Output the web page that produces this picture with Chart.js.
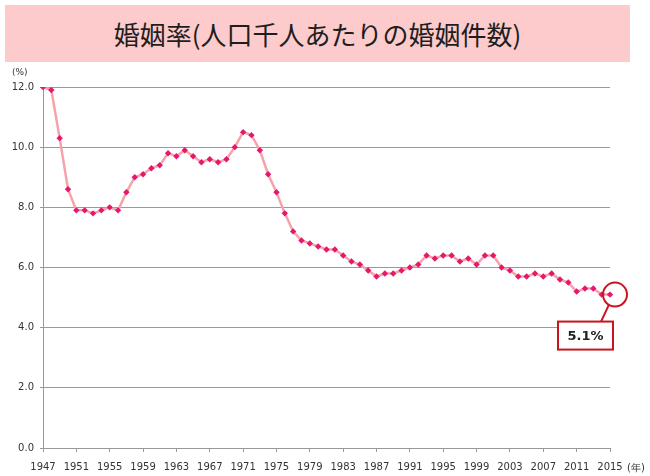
<!DOCTYPE html>
<html>
<head>
<meta charset="utf-8">
<script src="https://cdn.jsdelivr.net/npm/chart.js@4"></script>
<style>
  html, body { margin: 0; padding: 0; background: #fff; }
  #wrap { position: relative; width: 650px; height: 476px; }
  #title {
    position: absolute; left: 5px; top: 5px; width: 625px; height: 57px;
    background: #fdcbcb; color: #1e1e1e;
    font-family: "Noto Sans CJK JP", sans-serif; font-size: 26px; font-weight: 400;
    line-height: 57px; text-align: center;
  }
  #marriage { position: absolute; left: 0; top: 0; }
</style>
</head>
<body>
<div id="wrap">
  <canvas id="marriage" width="650" height="476"></canvas>
  <div id="title">婚姻率(人口千人あたりの婚姻件数)</div>
</div>
<script>
const years = [];
for (let y = 1947; y <= 2015; y++) years.push(String(y));

const rates = [
  12.0, 11.9, 10.3, 8.6, 7.9, 7.9, 7.8, 7.9, 8.0, 7.9,
  8.5, 9.0, 9.1, 9.3, 9.4, 9.8, 9.7, 9.9, 9.7, 9.5,
  9.6, 9.5, 9.6, 10.0, 10.5, 10.4, 9.9, 9.1, 8.5, 7.8,
  7.2, 6.9, 6.8, 6.7, 6.6, 6.6, 6.4, 6.2, 6.1, 5.9,
  5.7, 5.8, 5.8, 5.9, 6.0, 6.1, 6.4, 6.3, 6.4, 6.4,
  6.2, 6.3, 6.1, 6.4, 6.4, 6.0, 5.9, 5.7, 5.7, 5.8,
  5.7, 5.8, 5.6, 5.5, 5.2, 5.3, 5.3, 5.1, 5.1
];

const yTicks = [0, 2, 4, 6, 8, 10, 12];

const FONT = 'Verdana, "DejaVu Sans", sans-serif';

// red circle + label box on the last point
const callout = {
  id: 'callout',
  afterDraw(chart) {
    const ctx = chart.ctx;
    const meta = chart.getDatasetMeta(0);
    const last = meta.data[meta.data.length - 1];
    const cx = last.x + 5, cy = last.y;
    ctx.save();
    ctx.strokeStyle = '#c8141e';
    ctx.lineWidth = 2;
    ctx.beginPath();
    ctx.arc(cx, cy, 12, 0, Math.PI * 2);
    ctx.stroke();
    ctx.beginPath();
    ctx.moveTo(cx - 6, cy + 10);
    ctx.lineTo(cx - 14, cy + 27);
    ctx.stroke();
    const bx = cx - 57, by = cy + 27, bw = 55, bh = 28;
    ctx.fillStyle = '#fff';
    ctx.fillRect(bx, by, bw, bh);
    ctx.strokeRect(bx, by, bw, bh);
    ctx.fillStyle = '#222';
    ctx.font = 'bold 13px ' + FONT;
    ctx.textAlign = 'center';
    ctx.textBaseline = 'middle';
    ctx.fillText(rates[rates.length - 1].toFixed(1) + '%', bx + bw / 2, by + bh / 2 + 1);
    // axis units
    ctx.font = '9px ' + FONT;
    ctx.fillStyle = '#333';
    ctx.textAlign = 'left';
    ctx.fillText('(%)', 12, 73);
    ctx.font = '10px ' + FONT;
    ctx.fillText('(年)', 627, 468);
    ctx.restore();
  }
};

new Chart(document.getElementById('marriage').getContext('2d'), {
  type: 'line',
  data: {
    labels: years,
    datasets: [{
      data: rates,
      borderColor: '#f5a3a8',
      borderWidth: 2.5,
      tension: 0,
      pointStyle: 'rectRot',
      pointRadius: 3.2,
      pointBackgroundColor: '#e5186e',
      pointBorderColor: '#e5186e',
      pointBorderWidth: 0
    }]
  },
  options: {
    responsive: false,
    animation: false,
    layout: { padding: { left: 0, right: 40, top: 87, bottom: 0 } },
    plugins: { legend: { display: false }, tooltip: { enabled: false } },
    scales: {
      x: {
        offset: false,
        afterFit: (s) => { s.height = 28; },
        grid: { drawOnChartArea: false, drawTicks: true, tickLength: 4, color: '#999' },
        border: { color: '#999' },
        ticks: {
          autoSkip: false, maxRotation: 0, padding: 9,
          color: '#333', font: { family: FONT, size: 10 },
          callback: function (v, i) { return i % 4 === 0 ? years[i] : null; }
        }
      },
      y: {
        min: 0, max: 12,
        afterFit: (s) => { s.width = 43; },
        afterBuildTicks: (s) => { s.ticks = yTicks.map(v => ({ value: v })); },
        grid: { color: '#9a9a9a', tickLength: 3 },
        border: { color: '#999' },
        ticks: {
          padding: 6, color: '#333', font: { family: FONT, size: 10 },
          callback: (v) => v.toFixed(1)
        }
      }
    }
  },
  plugins: [callout]
});
</script>
</body>
</html>
